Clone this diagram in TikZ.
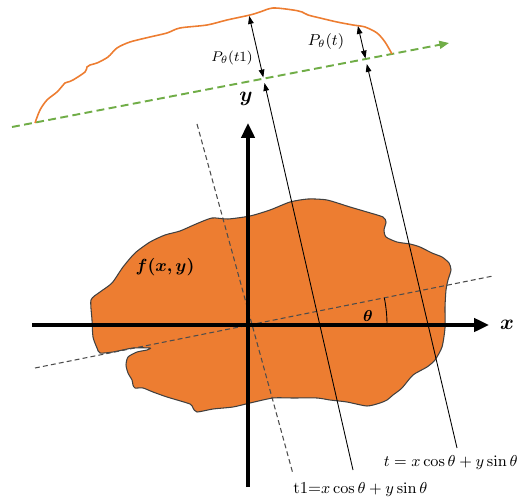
\documentclass[tikz,border=0pt]{standalone}
\usepackage{amsmath,amssymb,bm}
\usepackage{tikz}
\usetikzlibrary{arrows.meta,calc}

\definecolor{blobfill}{HTML}{ED7D31}
\definecolor{projgreen}{HTML}{70AD47}

\begin{document}
\begin{tikzpicture}[x=0.02cm,y=-0.02cm,
  axis/.style={line width=2.3pt,-{Triangle[length=8.5pt,width=7.5pt]}},
  ray/.style={line width=0.5pt,-{Triangle[length=4.5pt,width=3.2pt]}},
  tdash/.style={draw=black!70,line width=0.6pt,dash pattern=on 2.8pt off 1.8pt}]
  \useasboundingbox (0,0) rectangle (519,499);
  \fill[blobfill,draw=black!75,line width=0.6pt] plot[smooth cycle,tension=0.4] coordinates {
    (91,300) (100,292) (112,283) (123,267) (135,253) (150,242) (165,235)
    (180,231) (196,224) (212,218) (228,219) (250,216)
    (270,210) (290,202) (308,199) (327,200) (350,207) (367,212) (383,217) (386,222)
    (384,230) (386,237) (397,242) (410,244) (420,247) (432,253) (442,257) (449,263)
    (451,270) (448,280) (446,290) (445,307) (445,328) (442,347) (435,360) (427,367)
    (413,375) (402,388) (393,395) (387,400) (380,403) (367,406) (347,402) (330,400)
    (317,398) (293,398) (273,398) (250,403) (233,407) (213,409) (197,412) (193,408)
    (190,404) (167,397) (153,392) (143,388) (135,388) (133,385) (132,380) (128,373)
    (126,365) (128,357) (137,352) (147,350) (150,348) (133,348) (113,352) (100,353)
    (97,348) (93,337) (92,320)};
  \draw[tdash] (35,368) -- (493,276);
  \draw[tdash] (197,124) -- (293,474);
  \draw[projgreen,line width=1.1pt,dash pattern=on 4.5pt off 2.5pt,
    -{Triangle[length=5.5pt,width=4.5pt]}] (12,127) -- (449,43);
  \draw[blobfill,line width=0.9pt] plot[smooth,tension=0.5] coordinates {
    (35,123) (40,110) (47,100) (57,92) (65,83) (68,82) (73,80) (85,72) (87,67)
    (90,65) (97,63) (108,57) (117,48) (130,42) (150,37) (167,33) (180,28) (207,25)
    (227,20) (250,15) (260,12) (273,8) (293,10) (302,12) (308,15) (320,18) (337,22)
    (353,25) (365,27) (377,33) (385,42) (392,54)};
  \draw[axis] (32,325) -- (489,325);
  \draw[axis] (248,487) -- (248,123);
  \draw[line width=0.5pt] (387,325) arc[start angle=0,end angle=-11.3,radius=139];
  \coordinate (r1a) at (353,470);
  \coordinate (r1g) at (264.5,83);
  \coordinate (r1t) at (263.3,77.5);
  \coordinate (r1p) at (249.2,16);
  \coordinate (r2a) at (457,448);
  \coordinate (r2g) at (366.8,64);
  \coordinate (r2t) at (365.5,58.5);
  \coordinate (r2p) at (357.9,26);
  \draw[ray] (r1a) -- (r1g);
  \draw[ray,{Triangle[length=4.5pt,width=3.2pt]}-{Triangle[length=4.5pt,width=3.2pt]}] (r1t) -- (r1p);
  \draw[ray] (r2a) -- (r2g);
  \draw[ray,{Triangle[length=4.5pt,width=3.2pt]}-{Triangle[length=4.5pt,width=3.2pt]}] (r2t) -- (r2p);
  \node (xlab) at (507,325) {\large$\bm{x}$};
  \node (ylab) at (246,99) {\large$\bm{y}$};
  \node (flab) at (165,267) {$\bm{f(x,y)}$};
  \node (thlab) at (368,316) {\small$\bm{\theta}$};
  \node (p1lab) at (232,58) {\footnotesize$P_\theta(t1)$};
  \node (p2lab) at (326,42) {\small$P_\theta(t)$};
  \node[anchor=east,inner sep=0pt,font=\fontsize{9.5}{11}\selectfont] (tlab) at (518,463) {$t = x\cos\theta + y\sin\theta$};
  \node[anchor=west,inner sep=0pt,font=\fontsize{9.5}{11}\selectfont] (t1lab) at (293,489) {t1=$x\cos\theta + y\sin\theta$};
\end{tikzpicture}
\end{document}
